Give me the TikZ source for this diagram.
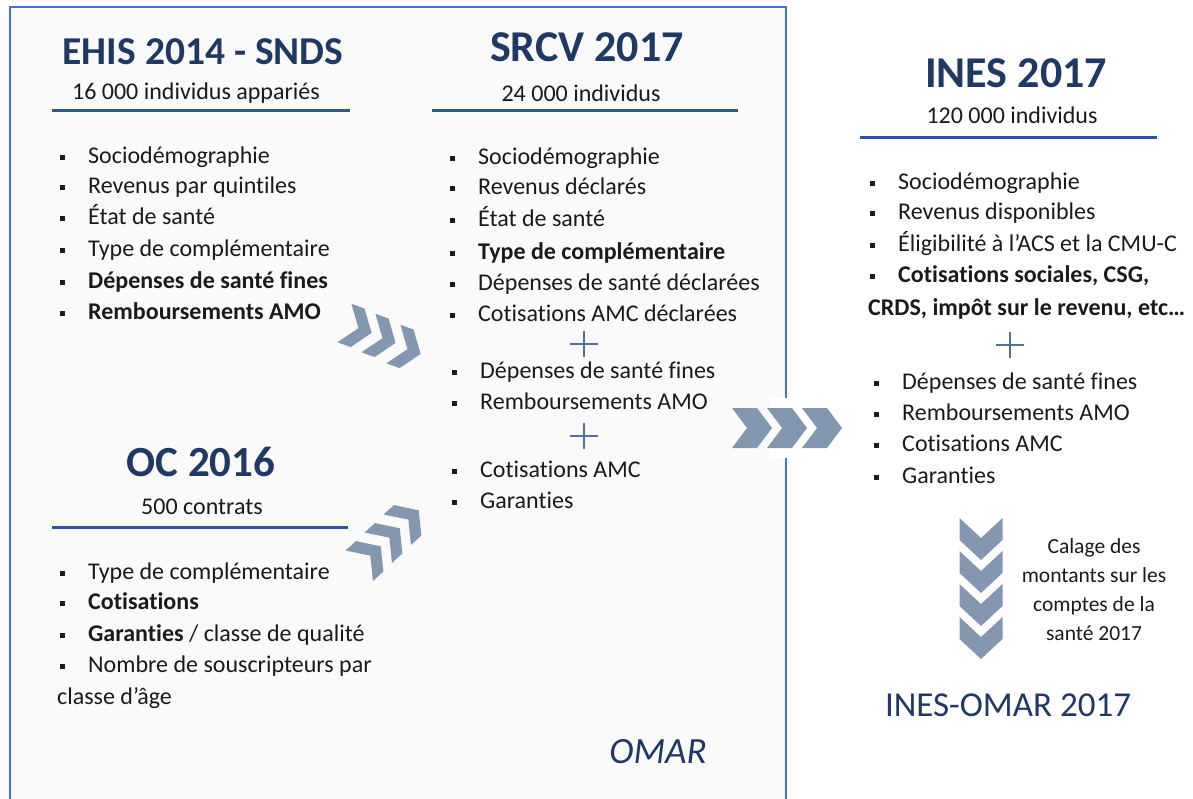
\documentclass[tikz,border=0pt]{standalone}
\usepackage{fontspec}
\setmainfont{Carlito}[Ligatures={NoCommon}]
\definecolor{navy}{HTML}{203864}
\definecolor{rulecol}{HTML}{2F5597}
\definecolor{boxcol}{HTML}{4472C4}
\definecolor{chevcol}{HTML}{8497B0}
\definecolor{pluscol}{HTML}{51709F}
\definecolor{txt}{HTML}{1A1A1A}
\definecolor{boxfill}{HTML}{FAFAFA}
\newcommand\bul{\makebox[28pt][l]{\rule[0.12em]{5pt}{5pt}}}
\newcommand\chevron[6]{%
  \fill[chevcol, shift={(#1,#2)}, rotate=#3] (-#4/2,#5/2) -- (#4/2-#6,#5/2) -- (#4/2,0) -- (#4/2-#6,-#5/2) -- (-#4/2,-#5/2) -- (-#4/2+#6,0) -- cycle;}
\newcommand\plusmark[2]{%
  \draw[pluscol, line width=1.8pt, shift={(#1,#2)}] (-14,0) -- (14,0) (0,-13) -- (0,13);}
\begin{document}
\begin{tikzpicture}[x=1pt,y=-1pt,
  title/.style={font=\fontsize{44}{50}\selectfont\bfseries, text=navy, inner sep=0, text height=29pt, text depth=0pt},
  sub/.style={font=\fontsize{24}{28}\selectfont, text=txt, inner sep=0, text height=17pt, text depth=5pt},
  item/.style={anchor=west, font=\fontsize{24}{28}\selectfont, text=txt, inner sep=0, text height=17pt, text depth=5pt},
  subrule/.style={draw=rulecol, line width=3pt},
  note/.style={font=\fontsize{21.5}{29}\selectfont, text=txt, align=center, inner sep=0},
  brand/.style={font=\fontsize{35}{40}\selectfont, text=navy, inner sep=0}]
\useasboundingbox (0,0) rectangle (1193,798);
\clip (0,0) rectangle (1193,798);
% OMAR frame
\path[fill=boxfill, draw=boxcol, line width=2.2pt] (10,7) rectangle (786,820);
\fill[white] (769,398) rectangle (806,458);

% EHIS
\node[title, font=\fontsize{39.5}{46}\selectfont\bfseries] (ehis) at (203,50) {EHIS 2014 - SNDS};
\node[sub] (ehiss) at (196,93) {16 000 individus appariés};
\coordinate (ehisl1) at (52,110); \coordinate (ehisl2) at (350,110);
\draw[subrule] (ehisl1) -- (ehisl2);
\node[item] (e1) at (60,157) {\bul Sociodémographie};
\node[item] (e2) at (60,187) {\bul Revenus par quintiles};
\node[item] (e3) at (60,218) {\bul État de santé};
\node[item] (e4) at (60,250) {\bul Type de complémentaire};
\node[item] (e5) at (60,282) {\bul \textbf{Dépenses de santé fines}};
\node[item] (e6) at (60,313) {\bul \textbf{Remboursements AMO}};

% SRCV
\node[title] (srcv) at (587,47) {SRCV 2017};
\node[sub] (srcvs) at (581,95) {24 000 individus};
\coordinate (srcvl1) at (432,110); \coordinate (srcvl2) at (738,110);
\draw[subrule] (srcvl1) -- (srcvl2);
\node[item] (s1) at (450,158) {\bul Sociodémographie};
\node[item] (s2) at (450,188) {\bul Revenus déclarés};
\node[item] (s3) at (450,220) {\bul État de santé};
\node[item] (s4) at (450,253) {\bul \textbf{Type de complémentaire}};
\node[item] (s5) at (450,284) {\bul Dépenses de santé déclarées};
\node[item] (s6) at (450,315) {\bul Cotisations AMC déclarées};
\plusmark{584}{344}
\node[item] (s7) at (452,372) {\bul Dépenses de santé fines};
\node[item] (s8) at (452,403) {\bul Remboursements AMO};
\plusmark{584}{436}
\node[item] (s9) at (452,471) {\bul Cotisations AMC};
\node[item] (s10) at (452,502) {\bul Garanties};

% OC
\node[title, font=\fontsize{43}{50}\selectfont\bfseries] (oc) at (201,462) {OC 2016};
\node[sub] (ocs) at (202,508) {500 contrats};
\coordinate (ocl1) at (52,527); \coordinate (ocl2) at (348,527);
\draw[subrule] (ocl1) -- (ocl2);
\node[item] (o1) at (60,573) {\bul Type de complémentaire};
\node[item] (o2) at (60,603) {\bul \textbf{Cotisations}};
\node[item] (o3) at (60,635) {\bul \textbf{Garanties} / classe de qualité};
\node[item] (o4) at (60,666) {\bul Nombre de souscripteurs par};
\node[item] (o5) at (57,698) {classe d’âge};

\node[brand, font=\fontsize{37}{42}\selectfont\itshape] (omar) at (658,752) {OMAR};

% INES
\node[title] (ines) at (1016,73) {INES 2017};
\node[sub] (iness) at (1012,117) {120 000 individus};
\coordinate (inesl1) at (860,137); \coordinate (inesl2) at (1157,137);
\draw[subrule] (inesl1) -- (inesl2);
\node[item] (i1) at (870,183) {\bul Sociodémographie};
\node[item] (i2) at (870,213) {\bul Revenus disponibles};
\node[item] (i3) at (870,245) {\bul Éligibilité à l’ACS et la CMU-C};
\node[item] (i4) at (870,276) {\bul \textbf{Cotisations sociales, CSG,}};
\node[item] (i5) at (868,309) {\textbf{CRDS, impôt sur le revenu, etc…}};
\plusmark{1010}{345}
\node[item] (i6) at (874,383) {\bul Dépenses de santé fines};
\node[item] (i7) at (874,414) {\bul Remboursements AMO};
\node[item] (i8) at (874,445) {\bul Cotisations AMC};
\node[item] (i9) at (874,477) {\bul Garanties};

\node[note] (calage) at (1094,590) {Calage des\\montants sur les\\comptes de la\\santé 2017};
\node[brand] (inesomar) at (1008,705) {INES-OMAR 2017};

% chevrons
\chevron{358}{328}{-20}{29}{41}{15}
\chevron{382}{338}{-20}{29}{41}{15}
\chevron{407}{349}{-20}{29}{41}{15}

\chevron{370}{556}{42}{29}{41}{15}
\chevron{389}{538}{42}{29}{41}{15}
\chevron{408}{520}{42}{29}{41}{15}

\chevron{752}{428}{0}{40}{40}{15}
\chevron{787}{428}{0}{40}{40}{15}
\chevron{822}{428}{0}{40}{40}{15}

\chevron{981}{539}{-90}{42}{43}{20}
\chevron{981}{572}{-90}{42}{43}{20}
\chevron{981}{605}{-90}{42}{43}{20}
\chevron{981}{638}{-90}{42}{43}{20}
\end{tikzpicture}
\end{document}
